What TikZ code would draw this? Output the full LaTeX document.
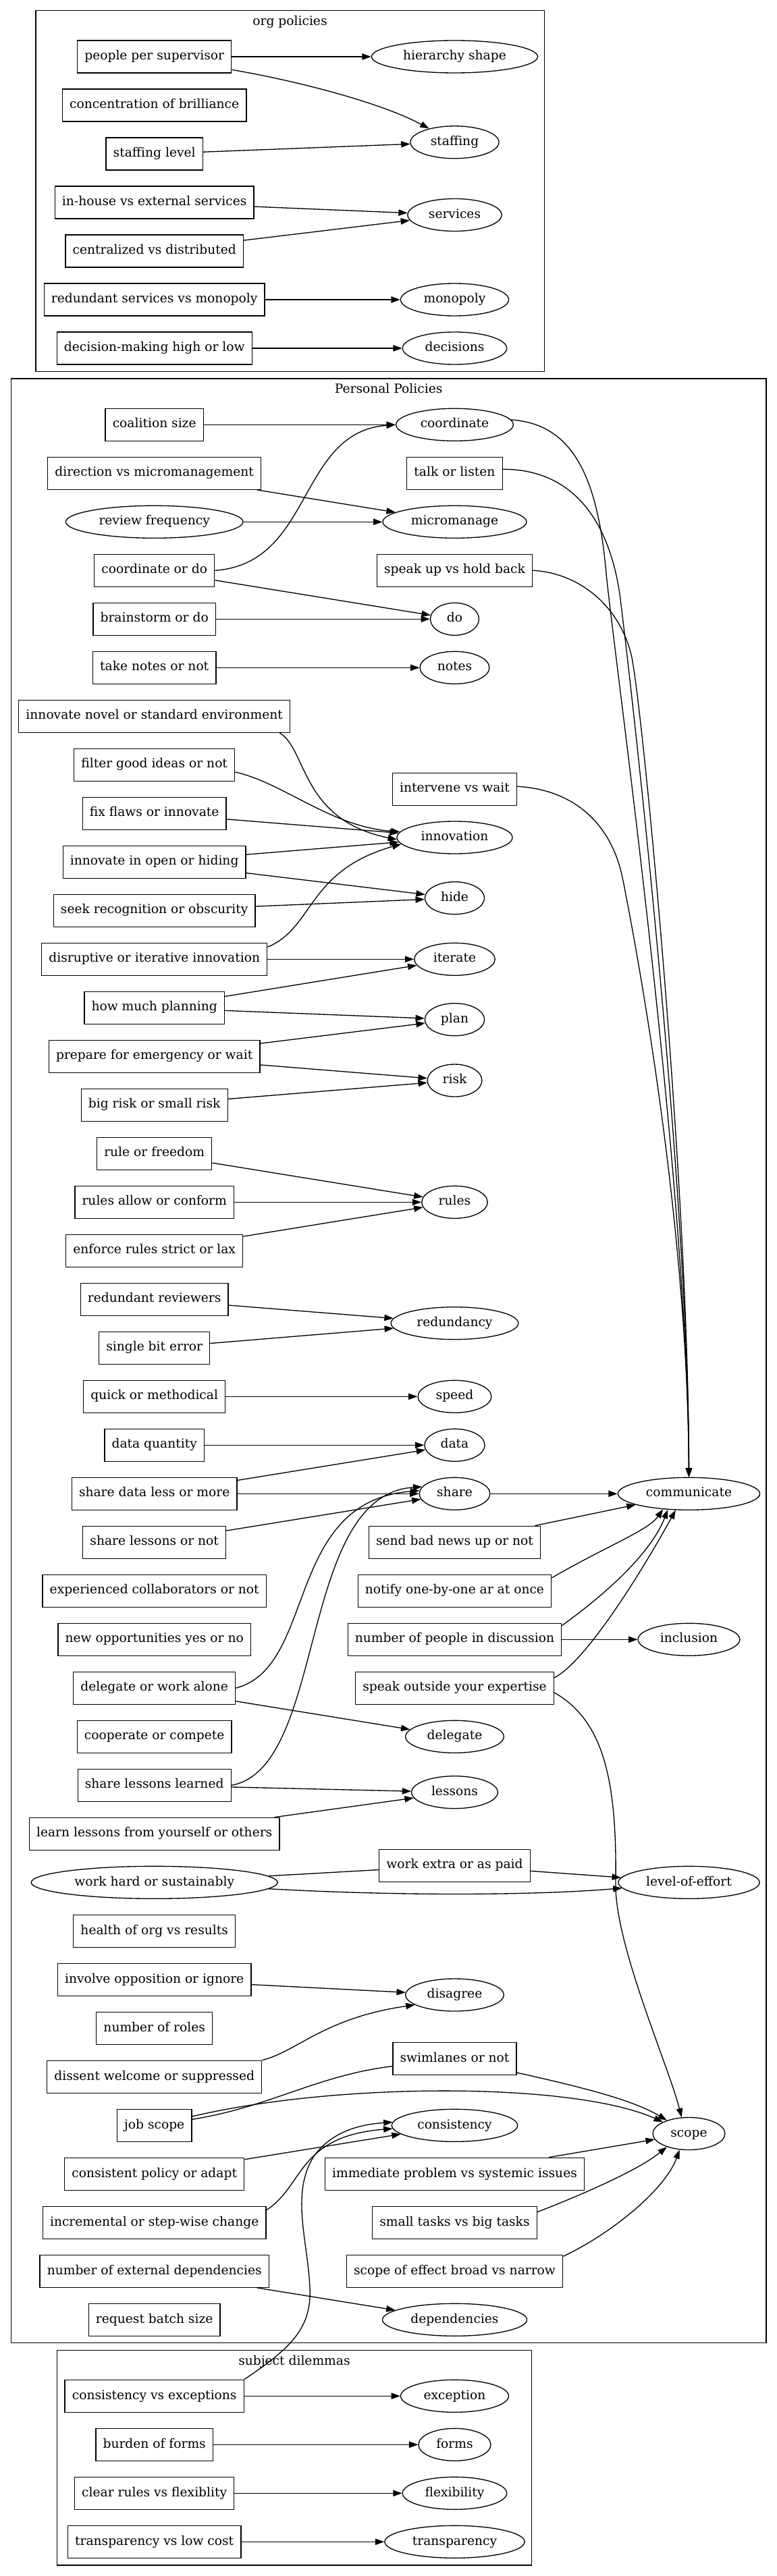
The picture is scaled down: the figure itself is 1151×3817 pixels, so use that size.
\documentclass[tikz,border=0pt]{standalone}
\usepackage{fontspec}
\setmainfont{DejaVu Serif}
\usetikzlibrary{shapes.geometric,arrows.meta}
\def\XL{228.7}
\def\XM{673.5}
\def\XR{1020.5}
\begin{document}
\begin{tikzpicture}[x=0.75pt,y=-0.75pt,
  font=\fontsize{14pt}{17pt}\selectfont,
  bx/.style={draw,line width=1pt,rectangle,inner xsep=8pt,inner ysep=3pt,minimum height=36pt,minimum width=54pt,text height=10.5pt,text depth=3.5pt},
  el/.style={draw,line width=1pt,ellipse,inner xsep=8pt,inner ysep=3pt,minimum height=36pt,minimum width=54pt,text height=10.5pt,text depth=3.5pt},
  arr/.style={line width=1pt,-{Triangle[length=10pt,width=7pt]}},
  ln/.style={line width=1pt},
  clu/.style={line width=1pt},
  ttl/.style={inner sep=0pt,text height=10.5pt,text depth=3.5pt}]
\useasboundingbox (0,0) rectangle (1151,3817);
% clusters
\draw[clu] (52.9,15.7) rectangle (806.2,550.3);
\draw[clu] (16.2,561) rectangle (1135,3471.7);
\draw[clu] (84.4,3482.7) rectangle (787.8,3801);
\node[ttl] (t1) at (429.5,33.3) {org policies};
\node[ttl] (t2) at (575.6,577.7) {Personal Policies};
\node[ttl] (t3) at (436,3500) {subject dilemmas};
% org nodes
\node[bx] (pps) at (\XL,84) {people per supervisor};
\node[el] (hier) at (\XM,84) {hierarchy shape};
\node[bx] (cob) at (\XL,156) {concentration of brilliance};
\node[bx] (stl) at (\XL,228) {staffing level};
\node[el] (staff) at (\XM,210.8) {staffing};
\node[bx] (ihes) at (\XL,300) {in-house vs external services};
\node[el] (serv) at (\XM,318.5) {services};
\node[bx] (cvd) at (\XL,372) {centralized vs distributed};
\node[bx] (rsvm) at (\XL,444) {redundant services vs monopoly};
\node[el] (mono) at (\XM,444) {monopoly};
\node[bx] (dmhl) at (\XL,516) {decision-making high or low};
\node[el] (dec) at (\XM,516) {decisions};
% personal nodes
\node[bx] (cs) at (\XL,629.3) {coalition size};
\node[el] (coord) at (\XM,629.3) {coordinate};
\node[bx] (dvm) at (\XL,701.3) {direction vs micromanagement};
\node[bx] (tol) at (\XM,701.3) {talk or listen};
\node[el] (rf) at (\XL,773.3) {review frequency};
\node[el] (micro) at (\XM,773.3) {micromanage};
\node[bx] (cod) at (\XL,845.3) {coordinate or do};
\node[bx] (suhb) at (\XM,845.3) {speak up vs hold back};
\node[bx] (bod) at (\XL,917.3) {brainstorm or do};
\node[el] (do) at (\XM,917.3) {do};
\node[bx] (tnn) at (\XL,989.3) {take notes or not};
\node[el] (notes) at (\XM,989.3) {notes};
\node[bx] (ins) at (\XL,1061.3) {innovate novel or standard environment};
\node[bx] (fgi) at (\XL,1133.3) {filter good ideas or not};
\node[bx] (ivw) at (\XM,1169.3) {intervene vs wait};
\node[bx] (ffi) at (\XL,1205.3) {fix flaws or innovate};
\node[el] (innov) at (\XM,1241) {innovation};
\node[bx] (ioh) at (\XL,1277.3) {innovate in open or hiding};
\node[el] (hide) at (\XM,1330.7) {hide};
\node[bx] (sro) at (\XL,1349.3) {seek recognition or obscurity};
\node[bx] (dii) at (\XL,1421.3) {disruptive or iterative innovation};
\node[el] (iter) at (\XM,1421.3) {iterate};
\node[bx] (hmp) at (\XL,1493.3) {how much planning};
\node[el] (plan) at (\XM,1510.7) {plan};
\node[bx] (pfe) at (\XL,1565.3) {prepare for emergency or wait};
\node[el] (risk) at (\XM,1601) {risk};
\node[bx] (brs) at (\XL,1637.3) {big risk or small risk};
\node[bx] (rof) at (\XL,1709.3) {rule or freedom};
\node[bx] (rac) at (\XL,1781.3) {rules allow or conform};
\node[el] (rules) at (\XM,1781.3) {rules};
\node[bx] (ersl) at (\XL,1853.3) {enforce rules strict or lax};
\node[bx] (rr) at (\XL,1925.3) {redundant reviewers};
\node[el] (redun) at (\XM,1960.7) {redundancy};
\node[bx] (sbe) at (\XL,1997.3) {single bit error};
\node[bx] (qom) at (\XL,2069.3) {quick or methodical};
\node[el] (speed) at (\XM,2069.3) {speed};
\node[bx] (dq) at (\XL,2141.3) {data quantity};
\node[el] (data) at (\XM,2141.3) {data};
\node[bx] (sdlm) at (\XL,2213.3) {share data less or more};
\node[el] (share) at (\XM,2213.3) {share};
\node[el] (comm) at (\XR,2213.3) {communicate};
\node[bx] (slon) at (\XL,2285.3) {share lessons or not};
\node[bx] (sbn) at (\XM,2285.3) {send bad news up or not};
\node[bx] (ecn) at (\XL,2357.3) {experienced collaborators or not};
\node[bx] (notify) at (\XM,2357.3) {notify one-by-one ar at once};
\node[bx] (noyn) at (\XL,2429.3) {new opportunities yes or no};
\node[bx] (npd) at (\XM,2429.3) {number of people in discussion};
\node[el] (incl) at (\XR,2429.3) {inclusion};
\node[bx] (dwa) at (\XL,2501.3) {delegate or work alone};
\node[bx] (soe) at (\XM,2501.3) {speak outside your expertise};
\node[bx] (coc) at (\XL,2573.3) {cooperate or compete};
\node[el] (deleg) at (\XM,2573.3) {delegate};
\node[bx] (sll) at (\XL,2645.3) {share lessons learned};
\node[el] (less) at (\XM,2655.7) {lessons};
\node[bx] (llyo) at (\XL,2717.3) {learn lessons from yourself or others};
\node[bx] (wep) at (\XM,2764.2) {work extra or as paid};
\node[el] (whs) at (\XL,2789.3) {work hard or sustainably};
\node[el] (loe) at (\XR,2789.3) {level-of-effort};
\node[bx] (hor) at (\XL,2861.3) {health of org vs results};
\node[bx] (ioi) at (\XL,2933.3) {involve opposition or ignore};
\node[el] (disag) at (\XM,2956) {disagree};
\node[bx] (nor) at (\XL,3005.3) {number of roles};
\node[bx] (swim) at (\XM,3050.5) {swimlanes or not};
\node[bx] (dws) at (\XL,3077.3) {dissent welcome or suppressed};
\node[bx] (js) at (\XL,3149.3) {job scope};
\node[el] (cons) at (\XM,3149.3) {consistency};
\node[el] (scope) at (\XR,3161.5) {scope};
\node[bx] (cpa) at (\XL,3221.3) {consistent policy or adapt};
\node[bx] (ipsi) at (\XM,3221.3) {immediate problem vs systemic issues};
\node[bx] (isc) at (\XL,3293.3) {incremental or step-wise change};
\node[bx] (stbt) at (\XM,3293.3) {small tasks vs big tasks};
\node[bx] (ned) at (\XL,3365.3) {number of external dependencies};
\node[bx] (soebn) at (\XM,3365.3) {scope of effect broad vs narrow};
\node[bx] (rbs) at (\XL,3437.3) {request batch size};
\node[el] (deps) at (\XM,3437.3) {dependencies};
% subject nodes
\node[bx] (cve) at (\XL,3550.3) {consistency vs exceptions};
\node[el] (exc) at (\XM,3550.3) {exception};
\node[bx] (bof) at (\XL,3622.3) {burden of forms};
\node[el] (forms) at (\XM,3622.3) {forms};
\node[bx] (crf) at (\XL,3694.3) {clear rules vs flexiblity};
\node[el] (flex) at (\XM,3694.3) {flexibility};
\node[bx] (tlc) at (\XL,3766.3) {transparency vs low cost};
\node[el] (transp) at (\XM,3766.3) {transparency};
% org edges
\draw[arr] (pps) -- (hier);
\draw[arr] (pps) .. controls (430,118) and (560,150) .. (staff);
\draw[arr] (stl) -- (staff);
\draw[arr] (ihes) -- (serv);
\draw[arr] (cvd) -- (serv);
\draw[arr] (rsvm) -- (mono);
\draw[arr] (dmhl) -- (dec);
% personal straight edges
\draw[arr] (cs) -- (coord);
\draw[arr] (dvm) -- (micro);
\draw[arr] (rf) -- (micro);
\draw[arr] (cod) -- (do);
\draw[arr] (bod) -- (do);
\draw[arr] (tnn) -- (notes);
\draw[arr] (ffi) -- (innov);
\draw[arr] (ioh) -- (innov);
\draw[arr] (ioh) -- (hide);
\draw[arr] (sro) -- (hide);
\draw[arr] (dii) -- (iter);
\draw[arr] (hmp) -- (iter);
\draw[arr] (hmp) -- (plan);
\draw[arr] (pfe) -- (plan);
\draw[arr] (pfe) -- (risk);
\draw[arr] (brs) -- (risk);
\draw[arr] (rof) -- (rules);
\draw[arr] (rac) -- (rules);
\draw[arr] (ersl) -- (rules);
\draw[arr] (rr) -- (redun);
\draw[arr] (sbe) -- (redun);
\draw[arr] (qom) -- (speed);
\draw[arr] (dq) -- (data);
\draw[arr] (sdlm) -- (data);
\draw[arr] (sdlm) -- (share);
\draw[arr] (slon) -- (share);
\draw[arr] (share) -- (comm);
\draw[arr] (sbn) -- (comm);
\draw[arr] (npd) -- (incl);
\draw[arr] (dwa) -- (deleg);
\draw[arr] (sll) -- (less);
\draw[arr] (llyo) -- (less);
\draw[ln] (whs) -- (wep);
\draw[arr] (wep) -- (loe);
\draw[arr] (ioi) -- (disag);
\draw[arr] (cpa) -- (cons);
\draw[arr] ([xshift=-40pt]ipsi.north east) -- (scope);
\draw[arr] (ned) -- (deps);
% personal curved edges
\draw[arr] (cod.east) .. controls (465,835) and (440,640) .. (coord.west);
\draw[arr] (coord.5) .. controls (845,628) and (885,700) .. (898,850) .. controls (912,990) and (1019,1750) .. (comm);
\draw[arr] ([yshift=4.5pt]tol.east) .. controls (840,695) and (900,760) .. (918,880) .. controls (932,990) and (1020,1750) .. (comm);
\draw[arr] (suhb.east) .. controls (850,848) and (915,890) .. (935,970) .. controls (950,1030) and (1020,1750) .. (comm);
\draw[arr] ([yshift=3pt]ivw.east) .. controls (850,1170) and (905,1220) .. (922,1300) .. controls (938,1380) and (1019,1800) .. (comm);
\draw[arr] ([xshift=-12pt]ins.south east) .. controls (455,1110) and (445,1215) .. (innov.182);
\draw[arr] ([yshift=-8pt]fgi.east) .. controls (420,1160) and (490,1225) .. (innov.174);
\draw[arr] ([yshift=-5pt]dii.north east) .. controls (465,1375) and (455,1290) .. (innov.187);
\draw[arr] (dwa.east) .. controls (470,2470) and (420,2225) .. (share.175);
\draw[arr] (sll.east) .. controls (485,2620) and (440,2215) .. (share.168);
\draw[arr] ([yshift=-4pt]notify.north east) .. controls (900,2290) and (960,2268) .. (comm.211);
\draw[arr] ([yshift=-3pt]npd.north east) .. controls (900,2360) and (965,2300) .. (comm.217);
\draw[arr] ([yshift=-7pt]soe.north east) .. controls (868,2462) and (950,2330) .. (comm.231);
\draw[arr] ([yshift=-5pt]soe.east) .. controls (895,2550) and (914,2640) .. (912,2790) .. controls (910,2880) and (990,3060) .. (scope.114);
\draw[arr] (whs) .. controls (600,2810) and (800,2808) .. (loe);
\draw[arr] (dws.north east) .. controls (440,3040) and (480,2990) .. (disag.194);
\draw[ln] (js) .. controls (400,3122) and (470,3075) .. (swim);
\draw[arr] (js) .. controls (500,3085) and (850,3085) .. (scope);
\draw[arr] (swim) .. controls (850,3090) and (935,3110) .. (scope);
\draw[arr] ([yshift=-4.5pt]isc.north east) .. controls (450,3240) and (440,3165) .. (cons.183);
\draw[arr] (cve.north east) .. controls (430,3480) and (462,3450) .. (459,3390) .. controls (456,3320) and (430,3250) .. (465,3195) .. controls (490,3160) and (530,3148) .. (cons.177);
\draw[arr] ([yshift=-6.75pt]stbt.north east) .. controls (880,3245) and (950,3212) .. (scope.211);
\draw[arr] ([yshift=-2pt]soebn.north east) .. controls (905,3310) and (985,3245) .. (scope.240);
% subject edges
\draw[arr] (cve) -- (exc);
\draw[arr] (bof) -- (forms);
\draw[arr] (crf) -- (flex);
\draw[arr] (tlc) -- (transp);
\end{tikzpicture}
\end{document}
